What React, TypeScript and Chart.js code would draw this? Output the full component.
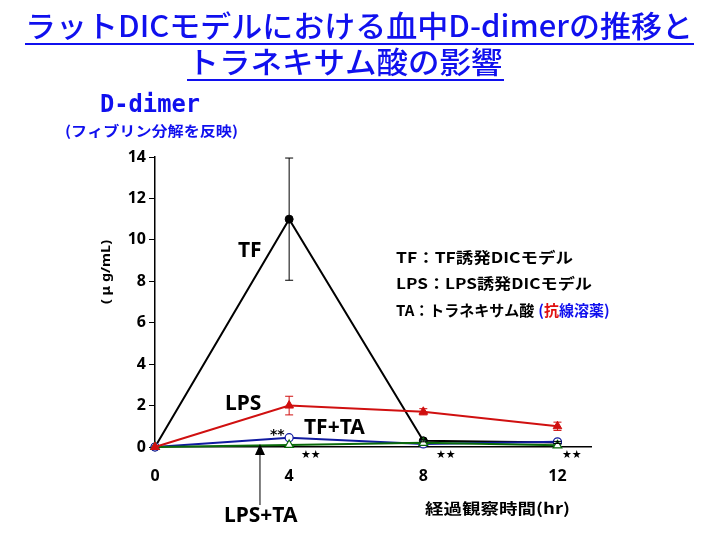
import React, { useEffect, useRef } from "react";
import { Chart, registerables } from "chart.js";

Chart.register(...registerables);

const hours = [0, 4, 8, 12];
const tfValues = [0, 11.0, 0.3, 0.22];
const tfErrors = [0, 2.95, 0.05, 0.05];
const lpsValues = [0, 2.0, 1.7, 1.0];
const lpsErrors = [0, 0.45, 0.15, 0.2];
const tfTaValues = [0, 0.45, 0.15, 0.25];
const lpsTaValues = [0, 0.1, 0.2, 0.08];
const yTicks = [0, 2, 4, 6, 8, 10, 12, 14];
const xTickLabels = ["0", "4", "8", "12"];

const titleLine1 = "ラットDICモデルにおける血中D-dimerの推移と";
const titleLine2 = "トラネキサム酸の影響";
const subTitle = "D-dimer";
const subNote = "(フィブリン分解を反映)";
const yLabel = "( μ g/mL)";
const xLabel = "経過観察時間(hr)";
const legendLines = ["TF：TF誘発DICモデル", "LPS：LPS誘発DICモデル"];
const legendTa = "TA：トラネキサム酸";
const seriesNames = ["TF", "LPS", "TF+TA", "LPS+TA"];

const BLUE = "#1010ee";

function fitText(ctx: CanvasRenderingContext2D, text: string, x: number, y: number, w: number, align: "left" | "center") {
  const m = ctx.measureText(text).width;
  const s = w / m;
  ctx.save();
  ctx.translate(x, y);
  ctx.scale(s, 1);
  ctx.textAlign = align;
  ctx.fillText(text, 0, 0);
  ctx.restore();
}

const errorPlugin = {
  id: "errs",
  afterDatasetsDraw(chart: any) {
    const ctx = chart.ctx as CanvasRenderingContext2D;
    const xs = chart.scales.x;
    const ys = chart.scales.y;
    const sets: [number[], number[], string][] = [
      [tfValues, tfErrors, "#000"],
      [lpsValues, lpsErrors, "#d01010"],
    ];
    ctx.save();
    sets.forEach(([vals, errs, col]) => {
      ctx.strokeStyle = col;
      ctx.lineWidth = 1;
      vals.forEach((v, i) => {
        if (!errs[i]) return;
        const px = xs.getPixelForValue(hours[i]);
        const top = ys.getPixelForValue(v + errs[i]);
        const bot = ys.getPixelForValue(v - errs[i]);
        ctx.beginPath();
        ctx.moveTo(px, top);
        ctx.lineTo(px, bot);
        ctx.moveTo(px - 4, top);
        ctx.lineTo(px + 4, top);
        ctx.moveTo(px - 4, bot);
        ctx.lineTo(px + 4, bot);
        ctx.stroke();
      });
    });
    ctx.restore();
  },
};

const textPlugin = {
  id: "texts",
  afterDraw(chart: any) {
    const ctx = chart.ctx as CanvasRenderingContext2D;
    ctx.save();
    ctx.textBaseline = "middle";
    // Title
    ctx.fillStyle = BLUE;
    ctx.strokeStyle = BLUE;
    ctx.font = '500 30px "Noto Sans CJK JP"';
    fitText(ctx, titleLine1, 359, 26, 668, "center");
    fitText(ctx, titleLine2, 345, 62, 315, "center");
    ctx.lineWidth = 2;
    ctx.beginPath();
    ctx.moveTo(25, 44);
    ctx.lineTo(694, 44);
    ctx.moveTo(187, 80);
    ctx.lineTo(504, 80);
    ctx.stroke();

    // Sub title
    ctx.font = 'bold 24px "DejaVu Sans Mono"';
    fitText(ctx, subTitle, 150, 106, 100, "center");
    ctx.font = 'bold 14px "Noto Sans CJK JP"';
    fitText(ctx, subNote, 65, 131, 173, "left");

    // Y label
    ctx.fillStyle = "#000";
    ctx.font = 'bold 12px "Noto Sans"';
    ctx.save();
    ctx.translate(107, 272);
    ctx.rotate(-Math.PI / 2);
    fitText(ctx, yLabel, 0, 0, 64, "center");
    ctx.restore();

    // X label
    ctx.font = 'bold 15px "Noto Sans CJK JP"';
    fitText(ctx, xLabel, 425, 508, 145, "left");

    // Series labels
    ctx.font = 'bold 21px "Noto Sans"';
    ctx.textAlign = "left";
    ctx.fillText(seriesNames[0], 238, 251);
    ctx.fillText(seriesNames[1], 225, 404);
    ctx.fillText(seriesNames[2], 304, 428);
    ctx.fillText(seriesNames[3], 224, 516);

    // Legend
    ctx.font = 'bold 15px "Noto Sans CJK JP"';
    fitText(ctx, legendLines[0], 396, 257, 177, "left");
    fitText(ctx, legendLines[1], 396, 283, 196, "left");
    ctx.textAlign = "left";
    let x = 396;
    const parts: [string, string][] = [
      [legendTa, "#000"],
      ["(", BLUE],
      ["抗", "#e01010"],
      ["線溶薬)", BLUE],
    ];
    parts.forEach(([t, c]) => {
      ctx.fillStyle = c;
      ctx.fillText(t, x, 310);
      x += ctx.measureText(t).width + (t === legendTa ? 4 : 0);
    });

    // Stars
    ctx.fillStyle = "#000";
    ctx.font = 'bold 11px "DejaVu Sans"';
    ctx.fillText("★★", 301, 455);
    ctx.fillText("★★", 436, 455);
    ctx.fillText("★★", 562, 455);
    ctx.font = 'bold 14px "DejaVu Sans"';
    ctx.fillText("**", 270, 435);

    // Arrow
    const ax = chart.scales.x.getPixelForValue(3.13);
    ctx.strokeStyle = "#000";
    ctx.lineWidth = 1;
    ctx.beginPath();
    ctx.moveTo(ax, 455);
    ctx.lineTo(ax, 505);
    ctx.stroke();
    ctx.beginPath();
    ctx.moveTo(ax, 444);
    ctx.lineTo(ax - 5, 455);
    ctx.lineTo(ax + 5, 455);
    ctx.closePath();
    ctx.fill();
    ctx.restore();
  },
};

export default function App() {
  const ref = useRef<HTMLCanvasElement>(null);
  useEffect(() => {
    if (!ref.current) return;
    const mk = (arr: number[]) => arr.map((v, i) => ({ x: hours[i], y: v }));
    const chart = new Chart(ref.current, {
      type: "scatter",
      data: {
        datasets: [
          {
            label: seriesNames[1],
            data: mk(lpsValues),
            showLine: true,
            borderColor: "#d01010",
            backgroundColor: "#d01010",
            pointStyle: "triangle",
            pointRadius: 5,
            pointBorderWidth: 1,
            borderWidth: 2,
            order: 1,
          },
          {
            label: seriesNames[3],
            data: mk(lpsTaValues),
            showLine: true,
            borderColor: "#0a6a0a",
            backgroundColor: "#fff",
            pointBorderColor: "#0a6a0a",
            pointStyle: "triangle",
            pointRadius: 5,
            pointBorderWidth: 1.2,
            borderWidth: 2,
            order: 2,
          },
          {
            label: seriesNames[2],
            data: mk(tfTaValues),
            showLine: true,
            borderColor: "#101aa0",
            backgroundColor: "#fff",
            pointBorderColor: "#101aa0",
            pointStyle: "circle",
            pointRadius: 4,
            pointBorderWidth: 1.2,
            borderWidth: 2,
            order: 3,
          },
          {
            label: seriesNames[0],
            data: mk(tfValues),
            showLine: true,
            borderColor: "#000",
            backgroundColor: "#000",
            pointStyle: "circle",
            pointRadius: 4,
            pointBorderWidth: 1,
            borderWidth: 2,
            order: 4,
          },
        ],
      },
      options: {
        responsive: false,
        animation: false,
        clip: false as any,
        layout: { padding: { top: 157, right: 129, left: 0, bottom: 0 } },
        plugins: { legend: { display: false }, tooltip: { enabled: false } },
        scales: {
          x: {
            type: "linear",
            min: 0,
            max: 13,
            afterFit: (s: any) => {
              s.height = 93;
            },
            afterBuildTicks: (s: any) => {
              s.ticks = hours.map((v) => ({ value: v }));
            },
            grid: { display: false, drawTicks: false },
            border: { display: true, color: "#000", width: 1.5 },
            ticks: {
              padding: 20,
              color: "#000",
              font: { family: "Noto Sans", weight: "bold", size: 16 },
              callback: (v: any) => xTickLabels[hours.indexOf(Number(v))] ?? "",
            },
          },
          y: {
            min: 0,
            max: 14,
            afterFit: (s: any) => {
              s.width = 155;
            },
            afterBuildTicks: (s: any) => {
              s.ticks = yTicks.map((v) => ({ value: v }));
            },
            grid: { drawOnChartArea: false, drawTicks: true, tickLength: 6, color: "#000" },
            border: { display: true, color: "#000", width: 1.5 },
            ticks: {
              padding: 3,
              color: "#000",
              font: { family: "Noto Sans", weight: "bold", size: 16 },
            },
          },
        },
      },
      plugins: [errorPlugin, textPlugin],
    });
    return () => chart.destroy();
  }, []);
  return (
    <div style={{ position: "fixed", left: 0, top: 0, width: 720, height: 540, background: "#fff" }}>
      <canvas ref={ref} width={720} height={540} />
    </div>
  );
}
